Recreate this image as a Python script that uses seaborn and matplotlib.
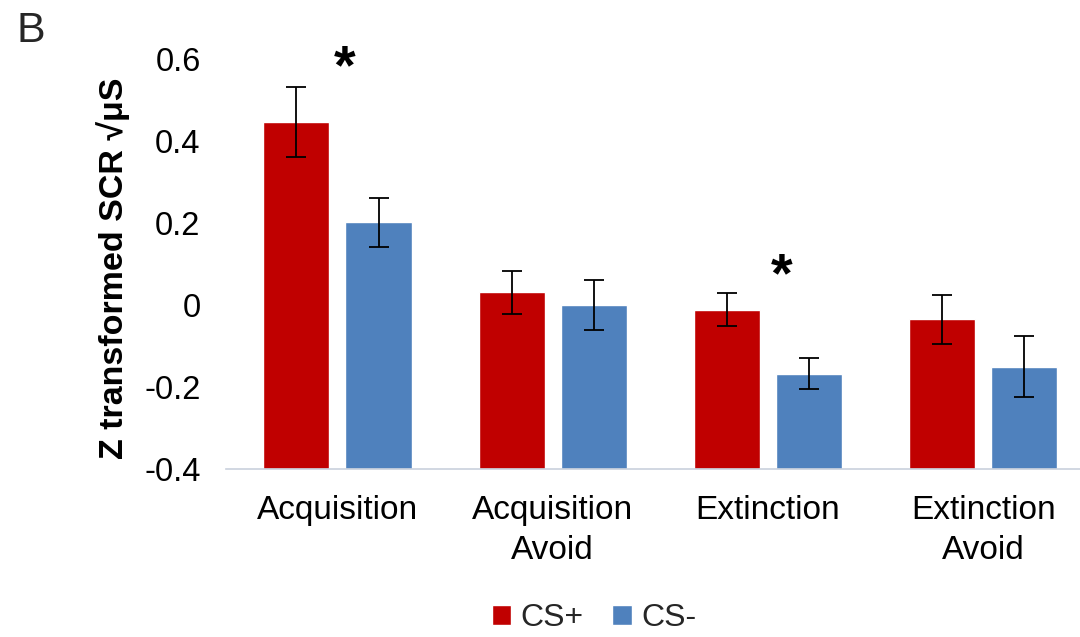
import matplotlib
matplotlib.use("Agg")
import matplotlib.pyplot as plt
import numpy as np
import pandas as pd
import seaborn as sns

# Mean z-transformed SCR per phase and stimulus, with SEM
phases = ["Acquisition", "Acquisition\nAvoid", "Extinction", "Extinction\nAvoid"]
stimuli = ["CS+", "CS-"]
cs_plus_mean = [0.447, 0.031, -0.011, -0.035]
cs_minus_mean = [0.202, 0.000, -0.168, -0.150]
cs_plus_sem = [0.085, 0.053, 0.040, 0.060]
cs_minus_sem = [0.060, 0.062, 0.038, 0.075]
yticks = [-0.4, -0.2, 0.0, 0.2, 0.4, 0.6]
ytick_labels = ["-0.4", "-0.2", "0", "0.2", "0.4", "0.6"]
# significance markers: x position (category units) and height
star_x = [0.035, 2.065]
star_y = [0.576, 0.067]

df = pd.DataFrame({
    "phase": phases * 2,
    "stimulus": ["CS+"] * 4 + ["CS-"] * 4,
    "value": cs_plus_mean + cs_minus_mean,
    "sem": cs_plus_sem + cs_minus_sem,
})

sns.set_theme(style="white")
plt.rcParams["font.family"] = ["Liberation Sans", "DejaVu Sans"]

fig = plt.figure(figsize=(10.8, 6.37), dpi=100)
ax = fig.add_axes([0.2088, 0.2637, 0.7912, 0.6437])

palette = {"CS+": "#C00000", "CS-": "#4F81BD"}
sns.barplot(data=df, x="phase", y="value", hue="stimulus", order=phases,
            hue_order=stimuli, palette=palette, errorbar=None, width=0.764,
            gap=0.196, saturation=1, ax=ax)

# bars rise from the bottom of the value axis (-0.4)
for container in ax.containers:
    for p in container.patches:
        top = p.get_y() + p.get_height()
        p.set_y(-0.4)
        p.set_height(top + 0.4)

# error bars placed on the bar centres drawn by seaborn
for container, stim in zip(list(ax.containers), stimuli):
    sub = df[df["stimulus"] == stim].set_index("phase").loc[phases]
    xs = [p.get_x() + p.get_width() / 2 for p in container.patches]
    ax.errorbar(xs, sub["value"].values, yerr=sub["sem"].values, fmt="none",
                ecolor="black", elinewidth=1.3, capsize=7, capthick=1.3)

ax.set_ylim(-0.4, 0.6)
ax.set_xlim(-0.52, 3.45)
ax.set_yticks(yticks)
ax.set_yticklabels(ytick_labels)
ax.tick_params(axis="y", length=0, pad=18, labelsize=23.5, colors="black")
ax.tick_params(axis="x", length=0, pad=19, labelsize=24, colors="black")
for lbl in ax.get_xticklabels():
    lbl.set_linespacing(1.35)
ax.set_xlabel("")
ax.set_ylabel("Z transformed SCR √μS", fontsize=24.5, fontweight="bold",
              color="black")
ax.yaxis.set_label_coords(-0.112, 0.49)
for s in ["left", "right", "top"]:
    ax.spines[s].set_visible(False)
ax.spines["bottom"].set_color("#C9D1DD")
ax.spines["bottom"].set_linewidth(1.2)

for x, y in zip(star_x, star_y):
    ax.text(x, y, "*", ha="center", va="center", fontsize=40,
            fontweight="bold", color="black", clip_on=False)

handles, labels = ax.get_legend_handles_labels()
ax.get_legend().remove()
fig.legend(handles, labels, loc="center", bbox_to_anchor=(594 / 1080, 1 - 618 / 637),
           ncol=2, frameon=False, fontsize=23, handlelength=0.6,
           handleheight=0.6, handletextpad=0.3, columnspacing=0.9)

fig.text(17 / 1080, 1 - 31 / 637, "B", fontsize=31, ha="left", va="center")

fig.savefig("out.png", dpi=100)
